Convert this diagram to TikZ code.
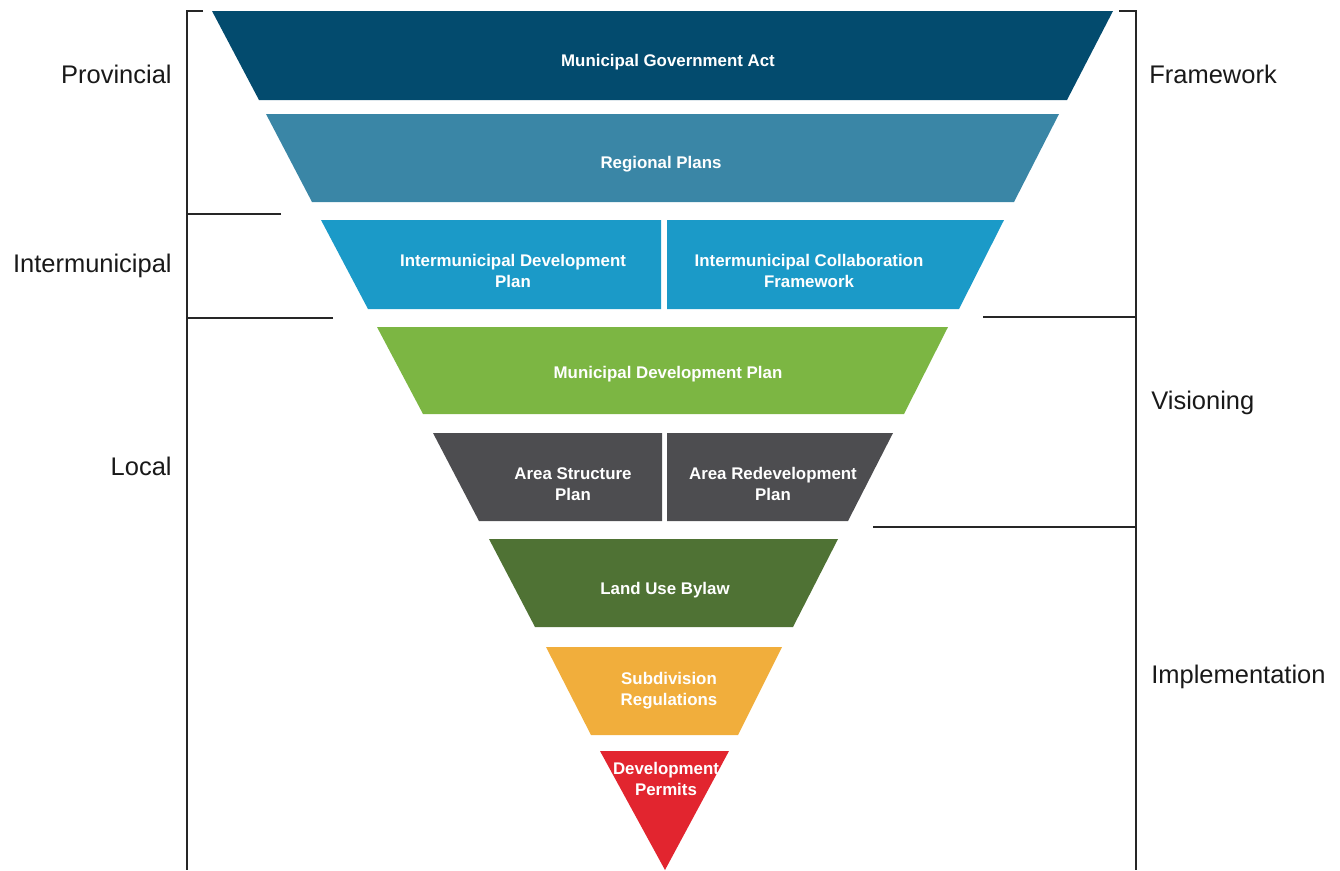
\documentclass[tikz,border=0pt]{standalone}
\usepackage{fontspec}
\setmainfont{Liberation Sans}
\usepackage{tikz}

\definecolor{actblue}{RGB}{3,75,110}
\definecolor{regblue}{RGB}{58,134,166}
\definecolor{interblue}{RGB}{27,154,200}
\definecolor{mdpgreen}{RGB}{124,182,67}
\definecolor{areagray}{RGB}{77,77,80}
\definecolor{bylawgreen}{RGB}{79,114,52}
\definecolor{subdivorange}{RGB}{241,174,60}
\definecolor{permitred}{RGB}{226,37,47}

\begin{document}
\begin{tikzpicture}[x=0.02cm,y=-0.02cm,
  bandtext/.style={text=white,font=\bfseries\fontsize{9.6}{11.8}\selectfont,align=center,inner sep=0pt},
  sidetext/.style={text=black!90,font=\fontsize{14.5}{17}\selectfont,inner sep=0pt},
  rule/.style={line width=0.7pt,black!85}]
\useasboundingbox (0,0) rectangle (1340,870);

\fill[actblue] (212,11) -- (1113,11) -- (1067,100) -- (259,100) -- cycle ;
\node[bandtext] (act) at (668,62) {Municipal Government Act};

\fill[regblue] (266,114) -- (1059,114) -- (1014,202) -- (312,202) -- cycle ;
\node[bandtext] (regional) at (661,164) {Regional Plans};

\fill[interblue] (321,220) -- (661,220) -- (661,309) -- (368,309) -- cycle ;
\fill[interblue] (667,220) -- (1004,220) -- (959,309) -- (667,309) -- cycle ;
\node[bandtext] (idp) at (513,271) {Intermunicipal Development\\Plan};
\node[bandtext] (icf) at (809,271) {Intermunicipal Collaboration\\Framework};

\fill[mdpgreen] (377,327) -- (948,327) -- (904,414) -- (423,414) -- cycle ;
\node[bandtext] (mdp) at (668,374) {Municipal Development Plan};

\fill[areagray] (433,433) -- (662,433) -- (662,521) -- (479,521) -- cycle ;
\fill[areagray] (667,433) -- (893,433) -- (848,521) -- (667,521) -- cycle ;
\node[bandtext] (asp) at (573,484) {Area Structure\\Plan};
\node[bandtext] (arp) at (773,484) {Area Redevelopment\\Plan};

\fill[bylawgreen] (489,539) -- (838,539) -- (793,627) -- (535,627) -- cycle ;
\node[bandtext] (lub) at (665,590) {Land Use Bylaw};

\fill[subdivorange] (546,647) -- (782,647) -- (738,735) -- (591,735) -- cycle ;
\node[bandtext] (subdiv) at (669,691) {Subdivision\\Regulations};

\fill[permitred] (600,751) -- (729,751) -- (665,870) -- cycle ;
\node[bandtext] (permits) at (666,779) {Development\\Permits};

% brackets
\coordinate (ltick) at (203,11);
\coordinate (ltop) at (187,11);
\coordinate (lbot) at (187,870);
\coordinate (rtick) at (1119,11);
\coordinate (rtop) at (1136,11);
\coordinate (rbot) at (1136,870);
\draw[rule] (ltick) -- (ltop) -- (lbot);
\draw[rule] (rtick) -- (rtop) -- (rbot);

\coordinate (linter) at (281,214);
\coordinate (llocal) at (333,318);
\coordinate (rvision) at (983,317);
\coordinate (rimpl) at (873,527);
\draw[rule] (linter) -- (linter -| ltop);
\draw[rule] (llocal) -- (llocal -| ltop);
\draw[rule] (rvision) -- (rvision -| rtop);
\draw[rule] (rimpl) -- (rimpl -| rtop);

\node[sidetext,anchor=base east] (prov) at (172,83) {Provincial};
\node[sidetext,anchor=base east] (inter) at (172,272) {Intermunicipal};
\node[sidetext,anchor=base east] (local) at (172,475) {Local};
\node[sidetext,anchor=base west] (frame) at (1149,83) {Framework};
\node[sidetext,anchor=base west] (vision) at (1151,409) {Visioning};
\node[sidetext,anchor=base west] (impl) at (1151,683) {Implementation};
\end{tikzpicture}
\end{document}
